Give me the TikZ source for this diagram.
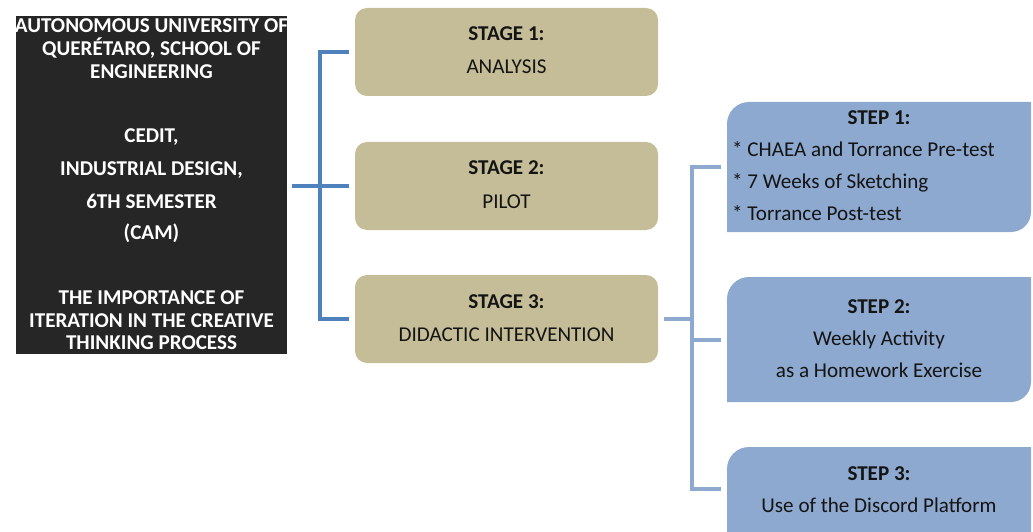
\documentclass[tikz,border=0pt]{standalone}
\usepackage{fontspec}
\setmainfont{Carlito}
\definecolor{darkbox}{HTML}{262626}
\definecolor{tan}{HTML}{C4BD97}
\definecolor{stepblue}{HTML}{8EA9CF}
\definecolor{linkdark}{HTML}{4F81BD}
\definecolor{linklight}{HTML}{8EA9CF}
\definecolor{ink}{HTML}{141414}
\tikzset{
  box/.style={inner sep=0pt, outer sep=0pt, anchor=north west},
  darkstyle/.style={box, fill=darkbox},
  stagebox/.style={box, fill=tan, rounded corners=12pt},
  stepshape/.style={box},
  txt/.style={inner sep=0pt, anchor=base, font=\fontsize{21.1}{25}\selectfont, text=ink},
  btxt/.style={txt, font=\fontsize{21.1}{25}\selectfont\bfseries},
  wtxt/.style={btxt, text=white},
  ltxt/.style={txt, anchor=base west},
  linkA/.style={draw=linkdark, line width=4pt},
  linkB/.style={draw=linklight, line width=4pt},
}
\begin{document}
\begin{tikzpicture}[x=1pt,y=1pt]
\useasboundingbox (0,0) rectangle (1033,531);
% dark box
\node[darkstyle, minimum width=271pt, minimum height=338pt] (dark) at (16,515) {};
\begin{scope}
\clip (16,177) rectangle (287,515);
\node[wtxt] (d1) at (151.5,498) {AUTONOMOUS UNIVERSITY OF};
\end{scope}
\node[wtxt] (d2) at (151.5,475) {QUERÉTARO, SCHOOL OF};
\node[wtxt] (d3) at (151.5,452) {ENGINEERING};
\node[wtxt] (d4) at (151.5,388) {CEDIT,};
\node[wtxt] (d5) at (151.5,355) {INDUSTRIAL DESIGN,};
\node[wtxt] (d6) at (151.5,323) {6TH SEMESTER};
\node[wtxt] (d7) at (151.5,291) {(CAM)};
\node[wtxt] (d8) at (151.5,227) {THE IMPORTANCE OF};
\node[wtxt] (d9) at (151.5,204) {ITERATION IN THE CREATIVE};
\node[wtxt] (d10) at (151.5,182) {THINKING PROCESS};
% stage boxes
\node[stagebox, minimum width=303pt, minimum height=88pt] (st1) at (355,523) {};
\node[stagebox, minimum width=303pt, minimum height=88pt] (st2) at (355,389) {};
\node[stagebox, minimum width=303pt, minimum height=88pt] (st3) at (355,256) {};
\node[btxt] (st1a) at ([yshift=-33pt]st1.north) {STAGE 1:};
\node[txt]  (st1b) at ([yshift=-66pt]st1.north) {ANALYSIS};
\node[btxt] (st2a) at ([yshift=-33pt]st2.north) {STAGE 2:};
\node[txt]  (st2b) at ([yshift=-66pt]st2.north) {PILOT};
\node[btxt] (st3a) at ([yshift=-33pt]st3.north) {STAGE 3:};
\node[txt]  (st3b) at ([yshift=-66pt]st3.north) {DIDACTIC INTERVENTION};
% step boxes (node frames)
\node[stepshape, minimum width=304pt, minimum height=130pt] (sp1) at (727,429) {};
\node[stepshape, minimum width=304pt, minimum height=125pt] (sp2) at (727,254) {};
\node[stepshape, minimum width=304pt, minimum height=84pt] (sp3) at (727,84) {};
\foreach \n/\r in {sp1/20, sp2/20}{
  \fill[stepblue] (\n.south west) -- ([yshift=-22pt]\n.north west)
    arc[start angle=180, end angle=90, radius=22pt] -- (\n.north east)
    -- ([yshift=\r pt]\n.south east)
    arc[start angle=0, end angle=-90, radius=\r pt] -- cycle;
}
\fill[stepblue] ([yshift=-10pt]sp3.south west) -- ([yshift=-22pt]sp3.north west)
    arc[start angle=180, end angle=90, radius=22pt] -- (sp3.north east)
    -- ([yshift=-10pt]sp3.south east) -- cycle;
\node[btxt] (sp1a) at ([yshift=-23pt]sp1.north) {STEP 1:};
\node[ltxt] (sp1b) at ([xshift=5pt,yshift=-55pt]sp1.north west) {* CHAEA and Torrance Pre-test};
\node[ltxt] (sp1c) at ([xshift=5pt,yshift=-87pt]sp1.north west) {* 7 Weeks of Sketching};
\node[ltxt] (sp1d) at ([xshift=5pt,yshift=-119pt]sp1.north west) {* Torrance Post-test};
\node[btxt] (sp2a) at ([yshift=-36pt]sp2.north) {STEP 2:};
\node[txt]  (sp2b) at ([yshift=-68pt]sp2.north) {Weekly Activity};
\node[txt]  (sp2c) at ([yshift=-100pt]sp2.north) {as a Homework Exercise};
\node[btxt] (sp3a) at ([yshift=-33pt]sp3.north) {STEP 3:};
\node[txt]  (sp3b) at ([yshift=-65pt]sp3.north) {Use of the Discord Platform};
% left bracket
\coordinate (jl) at (320,345);
\draw[linkA] ([xshift=5pt]dark.east |- st2.west) -- ([xshift=-6pt]st2.west);
\draw[linkA] ([xshift=-6pt]st1.west) -| (jl) |- ([xshift=-6pt]st3.west);
% right bracket
\coordinate (jr) at (692,212);
\draw[linkB] ([xshift=6pt]st3.east) -- (jr);
\draw[linkB] ([xshift=-6pt]sp1.west) -| (jr) |- ([xshift=-6pt]sp3.west);
\draw[linkB] (jr |- sp2.west) -- ([xshift=-6pt]sp2.west);
\end{tikzpicture}
\end{document}
